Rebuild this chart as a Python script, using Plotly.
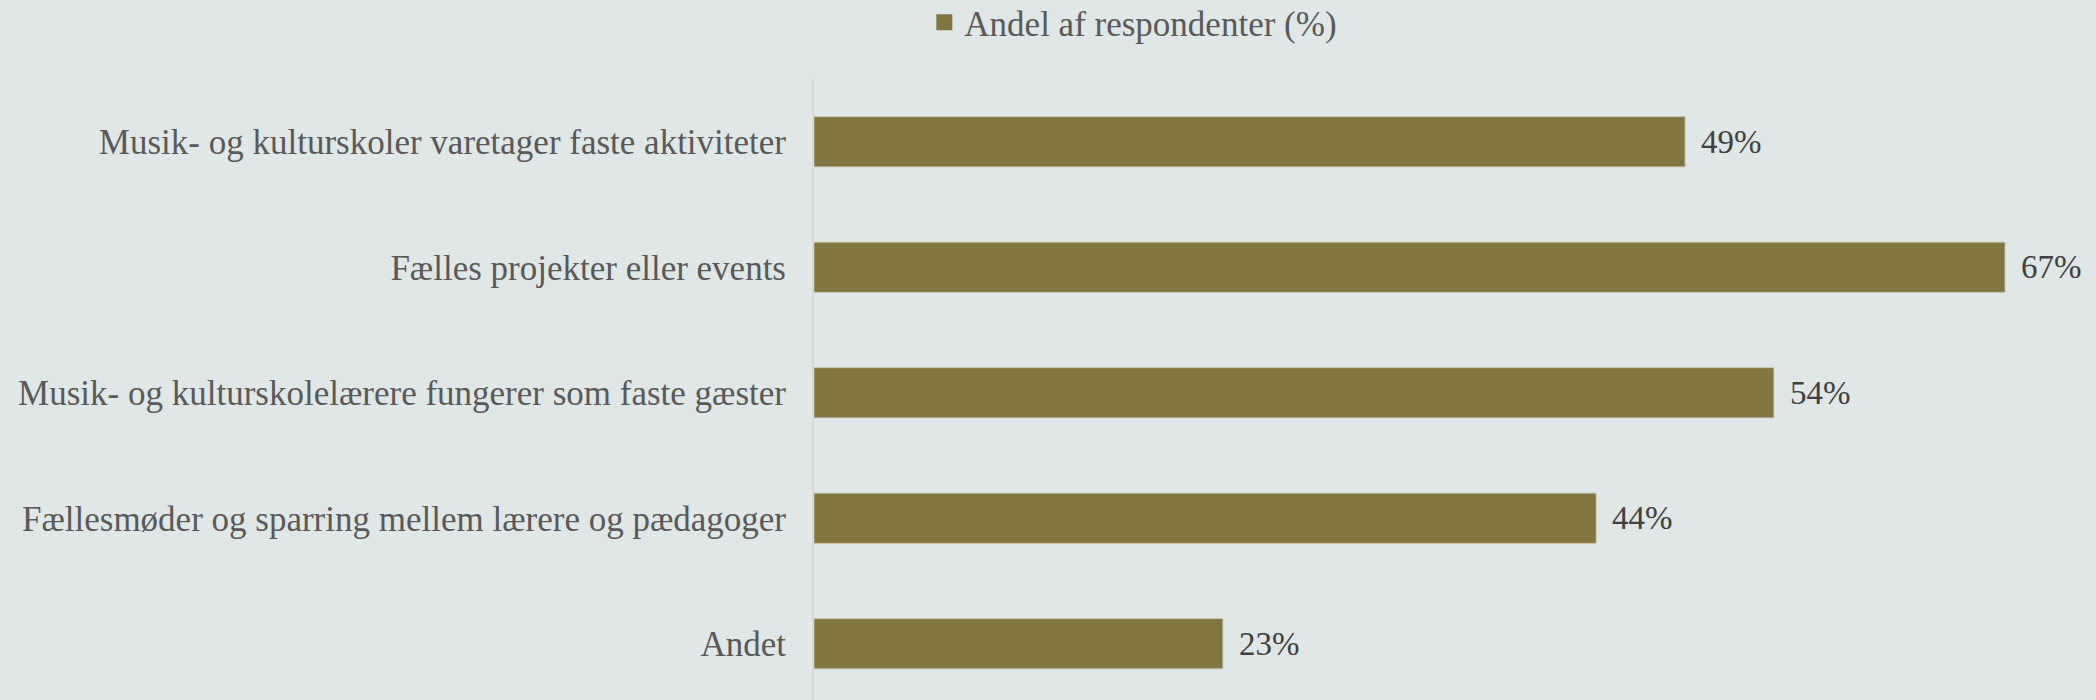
import plotly.graph_objects as go

categories = [
    "Musik- og kulturskoler varetager faste aktiviteter",
    "Fælles projekter eller events",
    "Musik- og kulturskolelærere fungerer som faste gæster",
    "Fællesmøder og sparring mellem lærere og pædagoger",
    "Andet",
]
values = [49, 67, 54, 44, 23]
labels = [f"{v}%" for v in values]
series_name = "Andel af respondenter (%)"

BG = "#E0E7E7"
BAR = "#827640"
FONT = "Liberation Serif"

fig = go.Figure()
fig.add_trace(go.Bar(
    y=categories, x=values, orientation="h", name=series_name,
    marker=dict(color=BAR, line=dict(color="#c9c3a6", width=0.8)),
    showlegend=False,
))
# legend-only entry with a larger square swatch
fig.add_trace(go.Scatter(
    x=[None], y=[None], mode="markers", name=series_name,
    marker=dict(symbol="square", size=16, color=BAR),
    showlegend=True, hoverinfo="skip",
))

for c, v, t in zip(categories, values, labels):
    fig.add_annotation(
        x=v, y=c, text=t, showarrow=False, xanchor="left", yanchor="middle",
        xshift=14, font=dict(family=FONT, size=33, color="#404040"),
    )

fig.update_layout(
    width=2096, height=700,
    paper_bgcolor=BG, plot_bgcolor=BG,
    margin=dict(l=814, r=0, t=79, b=0),
    bargap=0.6,
    font=dict(family=FONT, size=35, color="#595959"),
    showlegend=True,
    legend=dict(
        orientation="h", xref="container", yref="container",
        x=0.441, xanchor="left", y=0.968, yanchor="middle",
        font=dict(family=FONT, size=35, color="#595959"),
        bgcolor="rgba(0,0,0,0)", itemwidth=30,
    ),
    xaxis=dict(range=[0, 72.12], visible=False, showgrid=False, zeroline=False),
    yaxis=dict(
        range=[4.448, -0.5], showgrid=False, zeroline=False,
        showline=True, linecolor="#d4d8d8", linewidth=2,
        ticks="", ticklabelstandoff=19,
        tickfont=dict(family=FONT, size=35, color="#595959"),
    ),
)

fig.write_html("out.html", config={"displayModeBar": False},
               post_script="document.body.style.margin='0';")
